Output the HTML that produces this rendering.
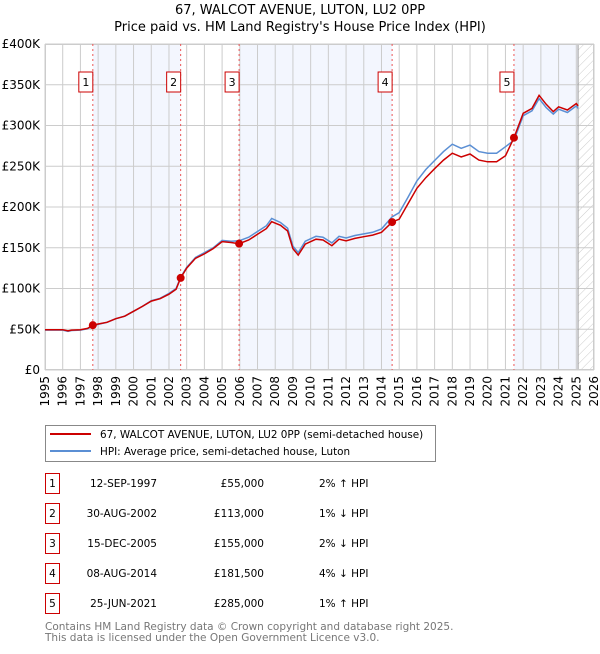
<!DOCTYPE html>
<html><head><meta charset="utf-8"><style>
body{margin:0;background:#fff;font-family:"DejaVu Sans","Liberation Sans",sans-serif;}
svg text{font-family:"DejaVu Sans","Liberation Sans",sans-serif;}
</style></head><body>
<svg id="c" width="600" height="650" xmlns="http://www.w3.org/2000/svg">
<defs><pattern id="hatch" width="6" height="6" patternUnits="userSpaceOnUse" patternTransform="rotate(45)"><line x1="0" y1="0" x2="0" y2="6" stroke="#ccc" stroke-width="1"/></pattern></defs>
<text x="300" y="14" text-anchor="middle" font-size="13" fill="#000">67, WALCOT AVENUE, LUTON, LU2 0PP</text>
<text x="300" y="31" text-anchor="middle" font-size="13" fill="#000">Price paid vs. HM Land Registry's House Price Index (HPI)</text>
<g id="plot"></g>
<g>
<rect x="45.5" y="425.5" width="390" height="36" fill="#fff" stroke="#888"/>
<line x1="50" y1="434" x2="91" y2="434" stroke="#cc0000" stroke-width="2"/>
<text x="100" y="438" font-size="10.4">67, WALCOT AVENUE, LUTON, LU2 0PP (semi-detached house)</text>
<line x1="50" y1="451" x2="91" y2="451" stroke="#5b8fd4" stroke-width="2"/>
<text x="100" y="455" font-size="10.4">HPI: Average price, semi-detached house, Luton</text>
</g>
<g id="table"></g>
<text x="45" y="630" font-size="10.5" fill="#777">Contains HM Land Registry data © Crown copyright and database right 2025.</text>
<text x="45" y="641" font-size="10.5" fill="#777">This data is licensed under the Open Government Licence v3.0.</text>
</svg>
<script>
const yearTicks=[1995,1996,1997,1998,1999,2000,2001,2002,2003,2004,2005,2006,2007,2008,2009,2010,2011,2012,2013,2014,2015,2016,2017,2018,2019,2020,2021,2022,2023,2024,2025,2026];
const yTicks=[0,50000,100000,150000,200000,250000,300000,350000,400000];
const yTickLabels=["£0","£50K","£100K","£150K","£200K","£250K","£300K","£350K","£400K"];
const hpiT=[1995,1995.5,1996,1996.3,1996.5,1997,1997.4,1997.7,1998,1998.5,1999,1999.5,2000,2000.5,2001,2001.5,2002,2002.4,2002.66,2003,2003.5,2004,2004.5,2005,2005.5,2005.96,2006.5,2007,2007.5,2007.8,2008.3,2008.7,2009,2009.3,2009.7,2010.3,2010.7,2011.2,2011.6,2012,2012.5,2013,2013.5,2014,2014.6,2015,2015.5,2016,2016.5,2017,2017.5,2018,2018.5,2019,2019.5,2020,2020.5,2021,2021.48,2022,2022.5,2022.9,2023.3,2023.7,2024,2024.5,2025,2025.1];
const hpiV=[49000,49000,49000,47500,48500,49000,50500,54000,56000,58500,63000,66000,72000,78000,85000,88000,94000,100000,114000,126000,138000,144000,150000,159000,158000,158500,163000,170000,177000,186000,181000,174000,152000,144000,158000,164000,163000,156000,164000,162000,165000,167000,169000,173000,188000,193000,212000,232000,246000,257000,268000,277000,272000,276000,268000,266000,266000,274000,282000,312000,318000,333000,322000,314000,320000,316000,324000,321000];
const redV=[49500,49500,49500,48000,49000,49500,51000,55000,56500,58500,63000,66000,72000,78000,84500,87500,93000,99000,113000,125000,137000,142500,149000,157500,156500,155000,159500,166500,173500,182000,177500,170500,149000,141000,154500,160500,159500,152500,160500,158500,161500,163500,165500,169000,181500,185000,204000,223000,236000,247000,257500,266000,261500,265000,257500,255500,255500,263000,285000,315000,321000,337000,326000,317000,323000,319000,327000,324000];
const saleT=[1997.7,2002.66,2005.96,2014.6,2021.48];
const saleV=[55000,113000,155000,181500,285000];
const saleLabels=["1","2","3","4","5"];
const saleDates=["12-SEP-1997","30-AUG-2002","15-DEC-2005","08-AUG-2014","25-JUN-2021"];
const salePrices=["£55,000","£113,000","£155,000","£181,500","£285,000"];
const saleDiffs=["2% ↑ HPI","1% ↓ HPI","2% ↓ HPI","4% ↓ HPI","1% ↑ HPI"];
const dataEnd=2025.1;

const NS="http://www.w3.org/2000/svg";
const X0=45,X1=594,Y0=370,Y1=44;
const xs=t=>X0+(t-1995)/(2026-1995)*(X1-X0);
const ys=v=>Y0-v/400000*(Y0-Y1);
const plot=document.getElementById('plot');
function mk(tag,attrs,parent){const e=document.createElementNS(NS,tag);for(const k in attrs)e.setAttribute(k,attrs[k]);(parent||plot).appendChild(e);return e;}

const bands=[[saleT[0],saleT[1]],[saleT[2],saleT[3]],[saleT[4],dataEnd]];
bands.forEach(b=>{const r=mk('rect',{x:xs(b[0]),y:Y1,width:xs(b[1])-xs(b[0]),height:Y0-Y1,fill:'#f3f6fe'});

});
const h=mk('rect',{x:xs(dataEnd),y:Y1,width:X1-xs(dataEnd),height:Y0-Y1,fill:'url(#hatch)'});



yTicks.forEach((v,i)=>{const l=mk('line',{x1:X0,x2:X1,y1:ys(v),y2:ys(v),stroke:'#ccc','stroke-width':1});


const t=mk('text',{x:X0-5,y:ys(v)+4,'text-anchor':'end','font-size':12,fill:'#000'});t.textContent=yTickLabels[i];

});
yearTicks.forEach(y=>{const l=mk('line',{x1:xs(y),x2:xs(y),y1:Y1,y2:Y0,stroke:'#ccc','stroke-width':1});


const t=mk('text',{x:0,y:0,'text-anchor':'end','font-size':12,fill:'#000',transform:`translate(${xs(y)+4},376) rotate(-90)`});t.textContent=y;

});
mk('line',{x1:xs(dataEnd),x2:xs(dataEnd),y1:Y1,y2:Y0,stroke:'#999','stroke-width':1});
mk('rect',{x:X0+0.5,y:Y1+0.5,width:X1-X0-1,height:Y0-Y1-1,fill:'none',stroke:'#ccc'});

saleT.forEach((t,i)=>{const l=mk('line',{x1:xs(t),x2:xs(t),y1:Y1,y2:Y0,stroke:'#e55','stroke-width':1,'stroke-dasharray':'2,3'});


const g=mk('g',{});


mk('rect',{x:xs(t)-14,y:72,width:14,height:20,fill:'#fff',stroke:'#cc0000'},g);
const tx=mk('text',{x:xs(t)-7,y:86,'text-anchor':'middle','font-size':11},g);tx.textContent=saleLabels[i];});

const pts=(T,V)=>T.map((t,i)=>xs(t).toFixed(1)+','+ys(V[i]).toFixed(1)).join(' ');
const hl=mk('polyline',{points:pts(hpiT,hpiV),fill:'none',stroke:'#5b8fd4','stroke-width':1.5});


const rl=mk('polyline',{points:pts(hpiT,redV),fill:'none',stroke:'#cc0000','stroke-width':1.5});


saleT.forEach((t,i)=>{const c=mk('circle',{cx:xs(t),cy:ys(saleV[i]),r:4,fill:'#cc0000'});

});

const tb=document.getElementById('table');
saleLabels.forEach((s,i)=>{const cy=483+i*30;
const g=mk('g',{},tb);


mk('rect',{x:45.5,y:cy-9.5,width:14,height:20,fill:'#fff',stroke:'#cc0000'},g);
const a=mk('text',{x:52.5,y:cy+4,'text-anchor':'middle','font-size':10.5},g);a.textContent=s;
const b=mk('text',{x:157,y:cy+4,'text-anchor':'end','font-size':10.5},g);b.textContent=saleDates[i];
const c=mk('text',{x:264,y:cy+4,'text-anchor':'end','font-size':10.5},g);c.textContent=salePrices[i];
const d=mk('text',{x:319,y:cy+4,'font-size':10.5},g);d.textContent=saleDiffs[i];});
</script>
</body></html>
